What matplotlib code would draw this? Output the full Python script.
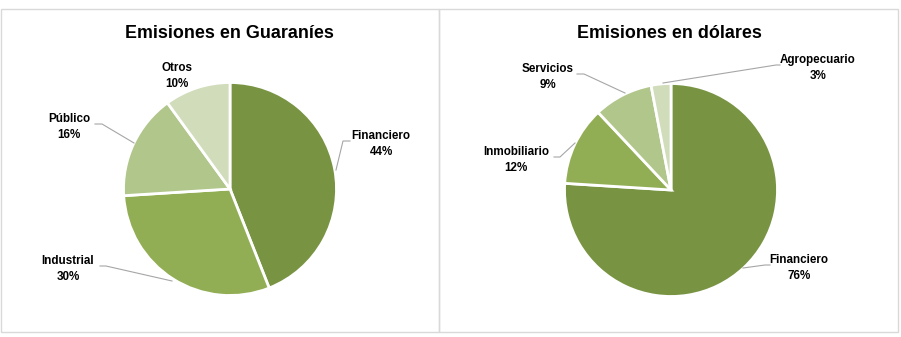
import matplotlib.pyplot as plt
from matplotlib.patches import Rectangle

plt.rcParams['font.family'] = ['Liberation Sans', 'DejaVu Sans']

# data
gs_labels = ['Financiero', 'Industrial', 'Público', 'Otros']
gs_values = [44, 30, 16, 10]
usd_labels = ['Financiero', 'Inmobiliario', 'Servicios', 'Agropecuario']
usd_values = [76, 12, 9, 3]

colors = ['#789443', '#92ae55', '#b1c68a', '#d0dcba']
H = 337

fig = plt.figure(figsize=(9.01, 3.37), dpi=100)
ax = fig.add_axes([0, 0, 1, 1])

# panel borders
for x0, x1 in [(1, 439), (439, 898)]:
    ax.add_patch(Rectangle((x0, H - 332), x1 - x0, 323, fill=False,
                           edgecolor='#d9d9d9', linewidth=1))


def draw(values, labels, cx, cy, title, tx, label_pos, leaders):
    ax.pie(values, colors=colors, startangle=90, counterclock=False,
           center=(cx, H - cy), radius=106.5,
           wedgeprops=dict(edgecolor='white', linewidth=2))
    ax.text(tx, H - 34, title, ha='center', va='center', fontsize=12.9,
            fontweight='bold')
    for lab, v, (lx, ly) in zip(labels, values, label_pos):
        ax.text(lx, H - ly, f'{lab}\n{v}%', ha='center', va='center',
                fontsize=8.4, fontweight='bold', linespacing=1.4)
    for pts in leaders:
        ax.plot([p[0] for p in pts], [H - p[1] for p in pts],
                color='#a6a6a6', linewidth=0.8)


draw(gs_values, gs_labels, 230, 189, 'Emisiones en Guaraníes', 229,
     [(381, 144), (68, 269), (69, 127), (177, 76)],
     [[(336, 170), (343, 141), (350, 141)],
      [(172, 281), (106, 266), (100, 266)],
      [(134, 143), (102, 124), (95, 124)]])

draw(usd_values, usd_labels, 671, 190, 'Emisiones en dólares', 669,
     [(799, 268), (516, 160), (548, 77), (818, 68)],
     [[(743, 268), (765, 265), (770, 265)],
      [(575, 143), (560, 157), (554, 157)],
      [(625, 93), (584, 74), (577, 74)],
      [(663, 83), (776, 65), (780, 65)]])

ax.set_xlim(0, 901)
ax.set_ylim(0, H)
ax.set_aspect('equal')
ax.axis('off')

fig.savefig('out.png', dpi=100, facecolor='white')
